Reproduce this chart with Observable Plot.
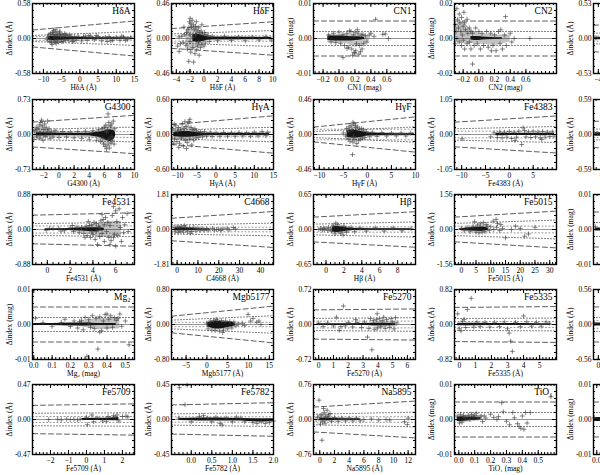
<!DOCTYPE html>
<html><head><meta charset="utf-8">
<script src="https://cdn.jsdelivr.net/npm/d3@7"></script>
<script src="https://cdn.jsdelivr.net/npm/@observablehq/plot@0.6"></script>
<style>
html,body{margin:0;padding:0;background:#fff;overflow:hidden;}
#wrap{position:relative;width:600px;height:475px;overflow:hidden;background:#fff;}
#wrap svg{position:absolute;}
</style></head>
<body><div id="wrap"></div>
<script>
// ---------- data ----------
const names = ["HδA","HδF","CN1","CN2","Ca4227","G4300","HγA","HγF","Fe4383","Ca4455","Fe4531","C4668","Hβ","Fe5015","Mg₁","Mg₂","Mgb5177","Fe5270","Fe5335","Fe5406","Fe5709","Fe5782","Na5895","TiO₁","TiO₂"];
const units = ["Å","Å","mag","mag","Å","Å","Å","Å","Å","Å","Å","Å","Å","Å","mag","mag","Å","Å","Å","Å","Å","Å","Å","mag","mag"];
const xMin = [-13,-4.7,-0.32,-0.31,-4.4,-3.5,-11.6,-11.2,-11.5,-0.3,-1.3,-2.7,-1.4,-2.3,-0.03,-0.007,-8.5,-0.35,-0.3,-0.2,-3.0,-0.48,-0.85,-0.027,-0.02];
const xMax = [15,10.1,0.96,0.99,4,10,15,10,9.9,3.5,7.65,46.3,10,32.3,0.25,0.55,16,6.55,6.05,4,2.67,2.0,13,0.615,0.6];
const yLim = [0.58,0.46,0.01,0.02,0.53,0.73,0.60,0.46,1.05,0.59,0.88,1.81,0.65,1.56,0.01,0.01,0.80,0.72,0.82,0.56,0.47,0.45,0.76,0.01,0.01];
const xTicks = [[-10,-5,0,5,10,15],[-4,-2,0,2,4,6,8,10],[-0.2,0,0.2,0.4,0.6],[-0.2,0,0.2,0.4,0.6],[-4,-2,0,2,4],
  [-2,0,2,4,6,8,10],[-10,-5,0,5,10,15],[-10,-5,0,5,10],[-10,-5,0,5],[0,1,2,3],
  [0,2,4,6],[0,10,20,30,40],[0,2,4,6,8],[0,5,10,15,20,25,30],[0,0.1,0.2],
  [0,0.1,0.2,0.3,0.4,0.5],[-5,0,5,10,15],[0,1,2,3,4,5,6],[0,1,2,3,4,5],[0,1,2,3,4],
  [-2,-1,0,1,2],[0,0.5,1,1.5,2],[0,2,4,6,8,10,12],[0,0.1,0.2,0.3,0.4,0.5],[0,0.1,0.2,0.3,0.4,0.5]];
const xDec = [0,0,1,1,0,0,0,0,0,0,0,0,0,0,1,1,0,0,0,0,0,1,0,1,1];
const xMinor = [1,0.5,0.05,0.05,1,0.5,1,1,1,0.2,0.5,2,0.5,1,0.02,0.02,1,0.2,0.2,0.2,0.2,0.1,0.5,0.02,0.02];
// envelopes: value at left edge, value at right edge (mirrored below zero)
const dashL = [0.14,0.13,0.005,0.01,0.2,0.26,0.17,0.097,0.37,0.22,0.36,0.58,0.23,0.55,0.005,0.005,0.19,0.3,0.4,0.28,0.19,0.187,0.27,0.005,0.005];
const dashR = [0.29,0.22,0.005,0.01,0.3,0.40,0.32,0.232,0.555,0.3,0.42,0.93,0.33,0.82,0.005,0.005,0.42,0.32,0.42,0.3,0.21,0.216,0.4,0.005,0.005];
const dotL = [0.05,0.06,0.002,0.004,0.08,0.105,0.075,0.04,0.17,0.09,0.15,0.23,0.1,0.27,0.002,0.002,0.1,0.125,0.14,0.11,0.084,0.072,0.115,0.002,0.002];
const dotR = [0.115,0.105,0.002,0.004,0.12,0.155,0.125,0.1,0.24,0.12,0.18,0.33,0.14,0.42,0.002,0.002,0.2,0.14,0.15,0.12,0.09,0.09,0.16,0.002,0.002];
const dotFlat = [0.03,0.035,null,null,0.04,0.06,0.04,0.07,0.1,0.05,0.09,0.12,0.05,0.15,null,null,0.05,0.07,0.07,0.06,0.04,0.035,0.06,null,null];

// dense cores: [x, low, high]
const core_HdA = [[-8.6,-0.028,0.028],[-7,-0.032,0.036],[-5,-0.027,0.027],[-2,-0.022,0.02],[0,-0.018,0.018],[5,-0.014,0.014],[10,-0.011,0.011],[14,-0.009,0.009]];
const core_HdF = [[-1.6,-0.04,0.05],[-1.0,-0.05,0.06],[-0.5,-0.045,0.05],[0,-0.035,0.035],[0.5,-0.022,0.022],[1.5,-0.018,0.018],[4,-0.015,0.015],[7,-0.013,0.013],[9.8,-0.013,0.013]];
const core_CN1 = [[-0.14,-0.0006,0.0007],[-0.05,-0.0007,0.0007],[0.05,-0.0007,0.0007],[0.15,-0.0007,0.0005],[0.25,-0.0005,0.0005],[0.32,-0.0003,0.0003]];
const core_CN2 = [[-0.1,-0.0009,0.0011],[-0.05,-0.0012,0.0012],[0,-0.0011,0.0011],[0.05,-0.0009,0.0009],[0.1,-0.0007,0.0007],[0.2,-0.0005,0.0005],[0.3,-0.0004,0.0004]];
const core_Ca4227 = [[-4.3,-0.02,0.02],[3,-0.02,0.02]];
const core_G4300 = [[-3,-0.03,0.035],[-2,-0.03,0.035],[0,-0.022,0.025],[2,-0.022,0.022],[4,-0.028,0.028],[5.5,-0.06,0.05],[6.2,-0.12,0.08],[6.8,-0.15,0.1],[7.3,-0.1,0.08],[7.5,-0.03,0.03]];
const core_HgA = [[-11,-0.035,0.035],[-9,-0.045,0.05],[-7,-0.045,0.05],[-5,-0.035,0.035],[-3,-0.022,0.022],[0,-0.018,0.018],[5,-0.016,0.016],[10,-0.016,0.016],[14,-0.013,0.018]];
const core_HgF = [[-4.2,-0.035,0.045],[-3,-0.05,0.06],[-2,-0.045,0.05],[-1,-0.035,0.035],[0,-0.02,0.022],[3,-0.013,0.013],[6,-0.011,0.011],[9.8,-0.011,0.011]];
const core_Fe4383 = [[-2.8,-0.035,0.035],[-1,-0.035,0.035],[1,-0.03,0.035],[3,-0.03,0.035],[5,-0.03,0.035],[7,-0.035,0.035],[9.5,-0.03,0.035]];
const core_Ca4455 = [[-0.25,-0.03,0.03],[3,-0.03,0.03]];
const core_Fe4531 = [[-0.2,-0.022,0.022],[1,-0.022,0.022],[2,-0.028,0.028],[3,-0.035,0.035],[4,-0.055,0.045],[4.5,-0.045,0.045],[5,-0.03,0.03]];
const core_C4668 = [[-1,-0.06,0.07],[2,-0.07,0.09],[5,-0.06,0.07],[8,-0.05,0.05],[10,-0.035,0.035],[13,-0.025,0.025],[16,-0.02,0.02]];
const core_Hb = [[0.7,-0.045,0.045],[1.2,-0.055,0.055],[1.8,-0.045,0.045],[2.4,-0.028,0.028],[3,-0.018,0.018],[5,-0.016,0.016],[7,-0.014,0.014],[9.5,-0.014,0.014]];
const core_Fe5015 = [[-0.5,-0.04,0.045],[1,-0.045,0.045],[3,-0.065,0.075],[5,-0.075,0.09],[7,-0.09,0.11],[8.5,-0.06,0.09],[9.2,-0.03,0.04]];
const core_Mg1 = [[-0.025,-0.0004,0.0004],[0.2,-0.0004,0.0004]];
const core_Mg2 = [[0,-0.0003,0.0003],[0.1,-0.0003,0.0003],[0.2,-0.0004,0.0004],[0.28,-0.0004,0.0004],[0.35,-0.0003,0.0003],[0.45,-0.0003,0.0003]];
const core_Mgb = [[0.2,-0.05,0.04],[1,-0.08,0.06],[2,-0.1,0.07],[3,-0.1,0.07],[4,-0.09,0.06],[5,-0.07,0.06],[6,-0.05,0.05],[6.8,-0.03,0.03]];
const core_Fe5270 = [[-0.1,-0.018,0.018],[1,-0.018,0.018],[2,-0.018,0.018],[3,-0.022,0.022],[3.8,-0.028,0.028],[4.5,-0.028,0.028],[5.2,-0.018,0.018]];
const core_Fe5335 = [[-0.1,-0.028,0.028],[1,-0.028,0.028],[2,-0.022,0.022],[3,-0.022,0.022],[4,-0.022,0.022],[5,-0.018,0.018],[5.7,-0.018,0.018]];
const core_Fe5406 = [[-0.15,-0.025,0.025],[3.5,-0.02,0.02]];
const core_Fe5709 = [[-0.25,-0.014,0.014],[0.5,-0.014,0.018],[1,-0.014,0.018],[1.5,-0.018,0.022],[1.8,-0.018,0.028]];
const core_Fe5782 = [[-0.3,-0.014,0.014],[0.2,-0.018,0.018],[0.7,-0.018,0.018],[1.2,-0.018,0.014],[1.6,-0.032,0.01],[2.0,-0.028,0.01]];
const core_Na5895 = [[0,-0.028,0.035],[1,-0.028,0.028],[2,-0.022,0.022],[3,-0.018,0.018],[4,-0.018,0.018],[5.5,-0.014,0.014]];
const core_TiO1 = [[-0.01,-0.0006,0.0007],[0.02,-0.0006,0.0008],[0.05,-0.0004,0.0007],[0.1,-0.0002,0.0007],[0.14,0,0.0005]];
const core_TiO2 = [[-0.015,-0.0006,0.0006],[0.1,-0.0005,0.0005]];

// looser clouds around the cores: [x, low, high]
const halo_HdA = [[-8.8,-0.07,0.08],[-7,-0.09,0.13],[-5,-0.05,0.07],[-3,-0.035,0.04],[0,-0.03,0.03],[14,-0.02,0.02]];
const halo_HdF = [[-2.6,-0.1,0.1],[-2,-0.15,0.2],[-1.5,-0.15,0.17],[-1,-0.12,0.13],[-0.5,-0.1,0.1],[0,-0.07,0.07],[0.5,-0.03,0.03],[10,-0.02,0.02]];
const halo_CN1 = [[-0.14,-0.0012,0.0012],[0.1,-0.0015,0.0012],[0.2,-0.0025,0.0012],[0.3,-0.002,0.001],[0.38,-0.0008,0.0008]];
const halo_CN2 = [[-0.3,-0.002,0.008],[-0.2,-0.003,0.01],[-0.1,-0.003,0.005],[0,-0.003,0.003],[0.2,-0.004,0.002],[0.4,-0.002,0.002]];
const halo_G4300 = [[-3.3,-0.06,0.1],[-2.3,-0.08,0.18],[-1,-0.05,0.08],[2,-0.05,0.05],[5,-0.08,0.07],[6.2,-0.25,0.18],[7,-0.2,0.2],[7.5,-0.06,0.06]];
const halo_HgA = [[-11.3,-0.08,0.08],[-9,-0.12,0.13],[-7,-0.13,0.15],[-5,-0.06,0.07],[-3,-0.03,0.03],[14,-0.025,0.03]];
const halo_HgF = [[-4.4,-0.06,0.07],[-3,-0.09,0.11],[-2,-0.08,0.09],[-1,-0.05,0.06],[0,-0.03,0.03],[9.8,-0.02,0.02]];
const halo_Fe4531 = [[2,-0.04,0.04],[3.5,-0.1,0.08],[4.5,-0.2,0.15],[5.5,-0.2,0.2],[6.5,-0.15,0.2]];
const halo_C4668 = [[-1.5,-0.1,0.12],[5,-0.1,0.12],[10,-0.05,0.05],[16,-0.03,0.03]];
const halo_Hb = [[0.7,-0.08,0.08],[2,-0.08,0.08],[3,-0.03,0.03],[9.5,-0.02,0.02]];
const halo_Fe5015 = [[0,-0.06,0.07],[5,-0.12,0.15],[8,-0.12,0.2],[9.5,-0.05,0.08]];
const halo_Mg2 = [[0.25,-0.0006,0.0008],[0.35,-0.0015,0.0018],[0.47,-0.0012,0.002]];
const halo_Mgb = [[0,-0.07,0.06],[2,-0.13,0.09],[4,-0.12,0.08],[6,-0.08,0.06],[7,-0.04,0.03]];
const halo_Fe5270 = [[3.5,-0.03,0.03],[4,-0.06,0.06],[5.3,-0.05,0.06]];
const halo_Na5895 = [[-0.2,-0.05,0.1],[0.8,-0.06,0.12],[1.5,-0.04,0.05],[5.5,-0.02,0.02]];
const halo_TiO1 = [[0,-0.001,0.0012],[0.15,-0.0003,0.0012]];
const halo_none = [];

// scattered points: [x, Δindex]
const pts_HdA = [[-8.5,0.06],[-8.2,-0.05],[-8,0.08],[-7.8,-0.07],[-7.5,0.1],[-7.2,0.13],[-7,-0.04],[-6.8,0.15],[-6.6,0.07],[-6.5,-0.08],[-6.3,0.11],[-6,0.05],[-5.8,-0.06],[-5.6,0.09],[-5.3,0.03],[-5,-0.05],[-4.8,0.06],[-4.5,0.04],[-4,-0.03],[-3.5,0.05],[-3,-0.04],[-2.5,0.04],[-2,-0.05],[-1.5,0.03],[-1,-0.03],[-0.5,0.04],[0.5,-0.04],[1,0.03],[2,-0.03],[3,0.04],[4,-0.02],[5,0.03],[6,-0.04],[7,0.02],[8,0.03],[9,-0.03],[10,0.02],[11,-0.03],[12,0.025],[13,-0.02],[14,0.02],[-8.8,0.02],[-7.6,-0.1],[-6.9,0.04],[-6.2,-0.02],[-5.5,0.12],[-4.2,0.08],[2.5,0.05],[7.5,-0.05],[11.5,0.04],[-9,-0.02],[-7.3,0.06],[-6.7,-0.06],[-5.2,0.07],[-4.6,-0.05],[-3.8,0.07],[-2.8,0.06],[-1.8,-0.04],[1.5,0.04],[4.5,0.05],[8.5,-0.04],[12.5,-0.03]];
const pts_HdF = [[-2,0.265],[-1.9,0.2],[-2.1,0.22],[-1.7,0.24],[-1.5,0.18],[-2.3,0.12],[-1.8,0.15],[-1.4,0.12],[-1.2,0.16],[-1,0.1],[-0.8,0.14],[-0.6,0.08],[-0.4,0.1],[-0.2,0.06],[0.1,0.08],[0.3,0.05],[-2.5,0.08],[-2.8,0.05],[-3.2,0.03],[-3.6,0.02],[-3.6,-0.17],[-3.8,-0.1],[-3.4,-0.07],[-3,-0.05],[-2.6,-0.09],[-2.4,-0.14],[-2.2,-0.3],[-2.1,-0.43],[-1.9,-0.18],[-1.6,-0.12],[-1.3,-0.2],[-1.1,-0.15],[-0.9,-0.1],[-0.7,-0.22],[-0.5,-0.12],[-0.3,-0.08],[0,-0.1],[0.2,-0.06],[-1.5,-0.31],[-0.8,-0.05],[-1.2,0.05],[-2,0.05],[-1.6,0.02],[-2,-0.04],[0.6,0.04],[0.8,-0.04],[1.2,0.03],[2,-0.03],[3,0.03],[4,-0.025],[5,0.02],[6,-0.03],[7,0.02],[8,-0.02],[9,0.025],[9.8,-0.02],[-2.9,0.15],[-1.1,0.22],[-0.3,0.18]];
const pts_CN1 = [[-0.13,0.001],[-0.1,-0.001],[-0.07,0.0015],[-0.04,-0.0012],[0,0.0018],[0.02,-0.0015],[0.05,0.0012],[0.07,-0.002],[0.1,0.0015],[0.12,-0.0025],[0.15,0.002],[0.16,-0.003],[0.18,0.001],[0.19,-0.004],[0.2,0.0018],[0.21,-0.0035],[0.22,-0.0015],[0.24,0.0015],[0.25,-0.0045],[0.26,-0.002],[0.28,0.001],[0.29,-0.003],[0.3,0.0012],[0.31,-0.0015],[0.33,0.0008],[0.35,-0.001],[0.38,0.001],[0.4,0.0015],[0.44,0.0006],[0.46,0.0055],[0.55,0.0012],[0.58,0.0013],[0.62,0],[0.17,-0.0048],[0.05,-0.0054],[0.2,-0.0042],[0.23,0.0025],[0.13,0.0022],[0.27,-0.0038],[0.1,-0.0028]];
const pts_CN2 = [[-0.28,0.017],[-0.25,0.014],[-0.27,0.011],[-0.24,0.009],[-0.22,0.012],[-0.2,0.007],[-0.26,0.006],[-0.29,0.004],[-0.23,0.004],[-0.21,0.002],[-0.18,0.009],[-0.17,0.005],[-0.15,0.011],[-0.14,0.003],[-0.12,0.006],[-0.1,0.004],[-0.19,0.015],[-0.3,0.008],[-0.28,0],[-0.25,-0.002],[-0.22,-0.004],[-0.2,-0.001],[-0.18,-0.006],[-0.15,-0.003],[-0.12,-0.002],[-0.3,-0.003],[-0.08,0.003],[-0.06,-0.004],[-0.04,0.006],[-0.02,-0.003],[0,0.004],[0.02,-0.006],[0.04,0.003],[0.06,-0.004],[-0.08,-0.0146],[0.1,0.004],[0.12,-0.005],[0.15,0.003],[0.18,-0.004],[0.2,0.002],[0.22,-0.007],[0.25,0.004],[0.27,-0.003],[0.3,-0.006],[0.33,0.002],[0.35,-0.004],[0.34,0.0125],[0.4,0.003],[0.42,-0.002],[0.45,0],[0.65,0],[0.28,0.005],[0.16,-0.007],[-0.1,-0.006]];
const pts_Ca4227 = [[-4.2,0.01]];
const pts_G4300 = [[-3.2,0.08],[-3,0.15],[-2.8,0.12],[-2.6,0.2],[-2.5,0.05],[-2.4,0.25],[-2.3,0.3],[-2.2,0.18],[-2,0.1],[-1.9,0.22],[-1.7,0.15],[-1.5,0.07],[-1.3,0.12],[-1,0.05],[-2.9,-0.05],[-2.5,-0.08],[-2.1,-0.12],[-1.8,-0.04],[-1.2,-0.08],[-0.8,-0.05],[-3.3,-0.1],[-0.5,0.08],[0,-0.06],[0.5,0.06],[1,-0.05],[1.5,0.05],[2,-0.07],[2.5,0.06],[3,-0.08],[3.5,0.07],[4,-0.1],[4.5,0.08],[5,-0.12],[5.2,0.1],[5.5,-0.15],[5.7,0.12],[5.9,-0.2],[6,0.15],[6.1,-0.25],[6.2,0.2],[6.3,-0.3],[6.4,0.1],[6.5,-0.22],[6.6,0.25],[6.7,-0.28],[6.8,0.18],[6.9,-0.18],[7,0.22],[7.1,-0.12],[7.2,0.28],[7.3,-0.2],[7.4,0.12],[6.5,0.43],[5.8,-0.08],[6.6,-0.1],[7,-0.05],[6.3,0.05],[-1.5,0.28]];
const pts_HgA = [[-11.2,0.1],[-10.8,-0.08],[-10.5,0.15],[-10.2,-0.12],[-10,0.06],[-9.8,0.12],[-9.5,-0.15],[-9.2,0.08],[-9,-0.06],[-8.8,0.18],[-8.5,-0.2],[-8.3,0.1],[-8,-0.1],[-7.8,0.14],[-7.5,-0.14],[-7.3,0.2],[-7,0.22],[-6.8,-0.08],[-6.5,0.12],[-6.3,-0.18],[-6,0.08],[-5.8,-0.1],[-5.5,0.1],[-5.2,-0.06],[-5,0.06],[-4.5,-0.05],[-4,0.05],[-3.5,-0.04],[-3,0.05],[-2.5,-0.03],[-1.5,0.04],[-1,-0.035],[0,0.03],[1,-0.03],[2,0.035],[3,-0.03],[4,0.03],[5,-0.03],[6,0.035],[7,-0.025],[8,0.03],[9,-0.03],[10,0.04],[11,-0.025],[12,0.05],[13,-0.02],[13.5,0.04],[-9.7,-0.22],[-7.7,-0.24],[-6.8,0.26],[-8.1,0.22],[-10.9,0.18],[-11,-0.15]];
const pts_HgF = [[-4.3,0.08],[-4,-0.06],[-3.8,0.1],[-3.6,-0.09],[-3.4,0.12],[-3.2,0.06],[-3,-0.1],[-2.8,0.14],[-2.6,-0.07],[-2.4,0.09],[-2.2,-0.12],[-2,0.1],[-1.8,-0.08],[-1.6,0.07],[-1.4,-0.06],[-1.2,0.08],[-1,-0.05],[-0.8,0.06],[-0.5,-0.04],[-3.1,-0.265],[-0.2,0.04],[0.5,-0.03],[1,0.03],[2,-0.025],[3,0.025],[4,-0.02],[5,0.02],[6,-0.02],[7,0.02],[8,-0.02],[9,0.02],[-5,0.02],[-3,0.16],[-2.5,0.12],[-4.5,-0.02],[-3.9,0.04],[-2.9,-0.03]];
const pts_Fe4383 = [[-9.9,-0.13],[-3.9,-0.07],[-3.2,0.05],[-2.5,-0.09],[-2,0.08],[-1.5,-0.1],[-1,0.07],[-0.5,-0.08],[0,0.09],[0.5,-0.12],[1,0.07],[1.5,-0.08],[2,0.1],[2.6,-0.3],[2.9,0.2],[3.5,-0.07],[4,0.08],[4.5,-0.09],[5,0.1],[5.5,-0.07],[6,0.08],[6.5,-0.1],[7,0.09],[7.5,-0.08],[8,0.07],[8.5,-0.06],[9,0.08],[9.4,-0.05],[3.2,0.12],[6.8,-0.15],[1.2,-0.18]];
const pts_Ca4455 = [[-0.2,0.02]];
const pts_Fe4531 = [[0.5,0.02],[1,0.03],[1.5,-0.03],[2,0.04],[2.3,-0.05],[2.6,0.06],[2.8,-0.08],[3,0.05],[3.2,-0.1],[3.4,0.08],[3.5,-0.15],[3.7,0.1],[3.8,-0.2],[3.9,0.12],[4,-0.12],[4.1,0.18],[4.2,-0.25],[4.3,0.15],[4.4,-0.38],[4.5,0.08],[4.6,-0.18],[4.7,0.22],[4.8,-0.1],[4.9,0.25],[5,-0.3],[5.1,0.3],[5.2,-0.05],[5.3,0.18],[5.4,-0.2],[5.5,0.1],[5.6,-0.28],[5.7,0.35],[5.8,0.575],[5.9,-0.12],[6,0.47],[6,-0.42],[6.1,0.2],[6.2,-0.15],[6.3,0.52],[6.4,0.05],[6.5,-0.3],[6.6,0.3],[6.8,0.12],[7,0.4],[7.1,-0.05],[5.5,-0.38],[4.8,0.38],[3.6,0.2],[2.2,0.1],[1.2,-0.04],[0.2,0.03],[-0.1,-0.02],[3.3,-0.2],[4.3,-0.05],[5,0.12],[5.8,-0.2],[6.7,-0.08],[4.6,0.05],[3.9,-0.06]];
const pts_C4668 = [[-1.5,0.1],[-1,-0.12],[0,0.14],[0.5,-0.15],[1,0.12],[1.5,-0.1],[2,0.16],[3,-0.14],[4,0.12],[5,-0.12],[6,0.1],[7,-0.1],[8,0.12],[9,-0.08],[10,0.08],[11,-0.06],[12,0.06],[13,-0.05],[14,0.05],[15,-0.04],[17,0.05],[18,-0.03],[20,0.02],[21,-0.05],[22,0.04],[24,0.06],[25,-0.02],[27,0.1],[28,0.03],[19,0],[3.5,0.2],[6.5,-0.2]];
const pts_Hb = [[-0.6,0.02],[-0.4,-0.01],[-0.3,0.03],[-0.2,0],[0,0.02],[0.2,-0.02],[0.3,0.04],[0.5,0.01],[-0.8,0],[0.6,-0.03],[0.8,0.08],[1,-0.08],[1.3,0.09],[1.6,-0.07],[2,0.06],[2.3,-0.05],[2.8,0.04],[3.2,-0.04],[3.8,0.03],[4.5,-0.03],[5.5,0.03],[6.5,-0.03],[7.5,0.03],[8.5,-0.025],[9.5,0.02],[1.1,0.12],[1.9,-0.1]];
const pts_Fe5015 = [[0,0.05],[1,-0.06],[2,0.08],[3,-0.1],[4,0.15],[5,-0.12],[5.5,0.2],[6,-0.15],[6.5,0.25],[7,-0.12],[7.5,0.3],[8,-0.1],[8.5,0.22],[9,0.15],[9.5,-0.05],[10,0.12],[10.8,0.37],[11.8,0.45],[12.3,0.27],[13.4,0.22],[12,0.1],[14,0.05],[15,-0.37],[18.4,0.15],[21.5,-0.3],[22.8,-0.2],[17,0],[20,0.05],[25,0.1],[11,0],[13,-0.05],[4.5,0.35]];
const pts_Mg1 = [[-0.025,0.0008]];
const pts_Mg2 = [[0.01,0.0018],[0.05,0.0005],[0.1,-0.0005],[0.15,0.0006],[0.17,0.0015],[0.2,-0.0006],[0.22,0.001],[0.24,-0.001],[0.26,0.0012],[0.27,-0.0015],[0.28,0.002],[0.29,-0.0091],[0.3,0.0015],[0.31,-0.0008],[0.32,0.0025],[0.33,-0.0012],[0.34,0.0018],[0.35,-0.007],[0.36,0.0022],[0.37,-0.0018],[0.38,0.001],[0.39,0.0028],[0.4,-0.001],[0.41,0.0015],[0.42,0.0025],[0.43,-0.0008],[0.44,0.002],[0.45,0.0012],[0.46,0.0018],[0.47,0.003],[0.48,-0.0005],[0.5,0.001],[0.52,-0.0058],[0.3,0.0005],[0.25,0.0008],[0.36,-0.0022],[0.4,0.003]];
const pts_Mgb = [[0,0.03],[0.3,-0.1],[0.8,0.08],[1.2,-0.13],[1.6,0.09],[2,-0.14],[2.5,0.1],[3,-0.15],[3.5,0.09],[4,-0.13],[4.5,0.08],[5,-0.1],[5.5,0.07],[6,-0.08],[6.5,0.06],[7,-0.03],[7.5,0.02],[8.5,0.03],[9.9,0.23],[11.1,0.14],[12.5,0.08],[10.5,0.08],[12,0.05],[13,0],[9,-0.02],[2.2,0.12],[3.8,-0.18]];
const pts_Fe5270 = [[0,0.03],[0.3,-0.04],[0.6,0.03],[1,-0.03],[1.2,0.15],[1.5,-0.04],[1.67,0.38],[1.8,-0.03],[2,0.04],[2.3,-0.05],[2.6,0.04],[2.9,-0.06],[3.1,0.05],[3.3,-0.26],[3.4,-0.08],[3.6,-0.52],[3.7,0.08],[3.8,-0.1],[3.9,0.1],[3.96,0.22],[4,-0.07],[4.1,0.12],[4.2,-0.05],[4.3,0.08],[4.5,-0.08],[4.6,0.1],[4.8,-0.06],[4.9,0.12],[5,0.05],[5.1,-0.09],[5.2,0.14],[5.3,0.03],[1.4,-0.12],[2.5,0.1],[3.5,0.12],[4.4,0.15]];
const pts_Fe5335 = [[-0.1,0.25],[0,-0.1],[0.2,0.08],[0.4,-0.07],[0.5,0.35],[0.74,0.615],[0.9,-0.06],[1.1,0.06],[1.3,-0.05],[1.6,0.05],[1.9,-0.06],[2.2,0.05],[2.5,-0.05],[2.8,0.06],[3.1,-0.2],[3.2,-0.39],[3.3,-0.63],[3,-0.1],[3.5,0.05],[3.8,-0.05],[4,0.2],[4.2,0.06],[4.5,-0.04],[4.8,0.05],[5.1,-0.04],[5.4,0.06],[5.6,0.03],[0.3,0.12],[0.1,-0.15]];
const pts_Fe5406 = [[-0.15,0.02]];
const pts_Fe5709 = [[-2.1,0],[-1.6,0.003],[-1.4,-0.004],[-1.1,0.005],[-0.9,0],[-0.7,0.003],[-0.5,-0.003],[-0.35,0.004],[0,0.03],[0.05,-0.07],[0.3,0.06],[0.6,0.02],[0.9,-0.02],[1.2,0.04],[1.5,0.05],[1.7,0.06],[1.8,-0.02],[2,0.04],[2.2,0.045],[2.3,0.035],[1.6,0.035],[1.1,-0.025],[0.4,-0.03]];
const pts_Fe5782 = [[-0.29,0.41],[-0.1,0.44],[-0.15,0.19],[-0.3,0.02],[0,-0.03],[0.2,0.04],[0.3,0.05],[0.5,-0.03],[0.6,0.03],[0.7,-0.05],[0.75,-0.07],[0.85,0.02],[1,-0.03],[1.1,0.03],[1.3,-0.03],[1.5,-0.04],[1.6,-0.05],[1.7,-0.03],[1.8,-0.05],[1.9,-0.04],[2,-0.02],[0.4,0.02],[1.2,0.02]];
const pts_Na5895 = [[-0.1,0.42],[0.3,-0.45],[0.5,0.24],[0.2,0.1],[0.4,-0.05],[0.6,0.15],[0.8,0.05],[1,0.2],[1.2,0.1],[1.4,0.13],[0.1,-0.1],[0.7,-0.08],[1.1,0.06],[1.6,-0.04],[2,0.04],[2.5,-0.04],[3,0.03],[3.5,-0.03],[4,0.03],[4.5,-0.03],[5,0.03],[5.5,-0.03],[6,0],[7,0.01],[8,-0.01],[9,0],[9.5,-0.01],[11.9,-0.11],[12,0.03],[11.5,-0.05],[-0.5,0],[-0.3,0.05]];
const pts_TiO1 = [[-0.01,0.001],[0.005,-0.001],[0.01,0.0015],[0.02,-0.0008],[0.03,0.0012],[0.04,0.0005],[0.06,0.0012],[0.07,0],[0.08,0.0015],[0.09,0.0008],[0.1,0.0012],[0.12,0.0005],[0.14,0.001],[0.15,-0.0006],[0.17,0.0004],[0.2,0.0015],[0.22,0.0006],[0.24,0],[0.27,0.0048],[0.28,0.0022],[0.3,-0.0005],[0.32,-0.0015],[0.34,0.002],[0.35,0.0005],[0.37,-0.0012],[0.38,-0.002],[0.4,0.001],[0.41,-0.0028],[0.42,0.002],[0.43,-0.001],[0.45,0.002],[0.39,-0.0025],[0.58,0.0065],[0.25,0.0008],[0.11,0.0018],[0.16,0.001]];
const pts_TiO2 = [[-0.015,0.0005]];

const cores = [core_HdA,core_HdF,core_CN1,core_CN2,core_Ca4227,core_G4300,core_HgA,core_HgF,core_Fe4383,core_Ca4455,core_Fe4531,core_C4668,core_Hb,core_Fe5015,core_Mg1,core_Mg2,core_Mgb,core_Fe5270,core_Fe5335,core_Fe5406,core_Fe5709,core_Fe5782,core_Na5895,core_TiO1,core_TiO2];
const halos = [halo_HdA,halo_HdF,halo_CN1,halo_CN2,halo_none,halo_G4300,halo_HgA,halo_HgF,halo_none,halo_none,halo_Fe4531,halo_C4668,halo_Hb,halo_Fe5015,halo_none,halo_Mg2,halo_Mgb,halo_Fe5270,halo_none,halo_none,halo_none,halo_none,halo_Na5895,halo_TiO1,halo_none];
const points = [pts_HdA,pts_HdF,pts_CN1,pts_CN2,pts_Ca4227,pts_G4300,pts_HgA,pts_HgF,pts_Fe4383,pts_Ca4455,pts_Fe4531,pts_C4668,pts_Hb,pts_Fe5015,pts_Mg1,pts_Mg2,pts_Mgb,pts_Fe5270,pts_Fe5335,pts_Fe5406,pts_Fe5709,pts_Fe5782,pts_Na5895,pts_TiO1,pts_TiO2];

// ---------- layout ----------
const colLeft = [0,139,281,422,561];
const rowTop = [0,96,191,286,381];
const PW = 140, PH = 95, ML = 32, MR = 6, MT = 3, MB = 22;
const IW = PW - ML - MR, IH = PH - MT - MB;
const FONT = "'Liberation Serif', 'DejaVu Serif', serif";

function panel(i) {
  const x0 = xMin[i], x1 = xMax[i], yl = yLim[i];
  const inX = v => v >= x0 - 1e-9 && v <= x1 + 1e-9;
  const major = xTicks[i].filter(inX);
  const st = xMinor[i];
  const minor = d3.range(Math.ceil(x0 / st), Math.floor(x1 / st) + 1).map(k => k * st).filter(inX);
  const yMajor = [-yl, 0, yl];
  const yMinor = d3.range(-4, 5).map(k => k * yl / 5);
  const env = (l, r, s) => [[x0, s * l], [x1, s * r]];
  const lineOpt = (dash, col, w) => ({x: d => d[0], y: d => d[1], stroke: col, strokeWidth: w, strokeDasharray: dash});
  const xf = v => {
    const s = v.toFixed(xDec[i]);
    return v < 0 ? "\u2212" + s.slice(1) : s;
  };
  const yf = v => (Math.abs(v) < 1e-12 ? 0 : v).toFixed(2);
  const marks = [
    Plot.ruleY([0], {stroke: "#777", strokeWidth: 0.8}),
    Plot.line(env(dotL[i], dotR[i], 1), lineOpt("1,2", "#555", 0.8)),
    Plot.line(env(dotL[i], dotR[i], -1), lineOpt("1,2", "#555", 0.8)),
  ];
  if (dotFlat[i] != null) {
    marks.push(Plot.line(env(dotFlat[i], dotFlat[i], 1), lineOpt("1,2.5", "#666", 0.7)));
    marks.push(Plot.line(env(dotFlat[i], dotFlat[i], -1), lineOpt("1,2.5", "#666", 0.7)));
  }
  marks.push(
    Plot.line(env(dashL[i], dashR[i], 1), lineOpt("5,3", "#333", 0.8)),
    Plot.line(env(dashL[i], dashR[i], -1), lineOpt("5,3", "#333", 0.8)),
    Plot.areaY(halos[i], {x: d => d[0], y1: d => d[1], y2: d => d[2], fill: "#333", fillOpacity: 0.3, curve: "linear"}),
    Plot.areaY(cores[i], {x: d => d[0], y1: d => d[1], y2: d => d[2], fill: "#151515", curve: "linear"}),
    Plot.dot(points[i], {x: d => d[0], y: d => d[1], symbol: "plus", r: 1.7, stroke: "#444", strokeWidth: 0.65}),
    // inward ticks on all four sides
    Plot.ruleX(major, {x: d => d, insetTop: IH - 4, stroke: "#000"}),
    Plot.ruleX(major, {x: d => d, insetBottom: IH - 4, stroke: "#000"}),
    Plot.ruleX(minor, {x: d => d, insetTop: IH - 2, stroke: "#000"}),
    Plot.ruleX(minor, {x: d => d, insetBottom: IH - 2, stroke: "#000"}),
    Plot.ruleY(yMajor, {y: d => d, insetRight: IW - 4, stroke: "#000"}),
    Plot.ruleY(yMajor, {y: d => d, insetLeft: IW - 4, stroke: "#000"}),
    Plot.ruleY(yMinor, {y: d => d, insetRight: IW - 2, stroke: "#000"}),
    Plot.ruleY(yMinor, {y: d => d, insetLeft: IW - 2, stroke: "#000"}),
    Plot.frame({stroke: "#000", strokeWidth: 1.4}),
    Plot.axisX({ticks: major, tickSize: 0, tickPadding: 3, tickFormat: xf, label: null, fontSize: 7.5}),
    Plot.axisY({ticks: yMajor, tickSize: 0, tickPadding: 2, tickFormat: yf, label: null, fontSize: 7.5}),
    Plot.text([names[i]], {frameAnchor: "top-right", dx: -4, dy: 4, textAnchor: "end", lineAnchor: "top", fontSize: 9.5, fill: "#000"}),
    Plot.text([names[i] + " (" + units[i] + ")"], {frameAnchor: "bottom", dy: 14, lineAnchor: "middle", fontSize: 7.5, fill: "#000"}),
    Plot.text(["\u0394index (" + units[i] + ")"], {frameAnchor: "left", dx: -23, rotate: -90, textAnchor: "middle", fontSize: 7.5, fill: "#000"})
  );
  return Plot.plot({
    width: PW, height: PH,
    marginLeft: ML, marginRight: MR, marginTop: MT, marginBottom: MB,
    x: {domain: [x0, x1]},
    y: {domain: [-yl, yl]},
    style: {fontFamily: FONT, fontSize: "7.5px", background: "transparent", overflow: "visible", color: "#000"},
    marks
  });
}

const wrap = document.getElementById("wrap");
for (let i = 0; i < names.length; i++) {
  const r = Math.floor(i / 5), c = i % 5;
  const svg = panel(i);
  svg.style.left = colLeft[c] + "px";
  svg.style.top = rowTop[r] + "px";
  svg.style.maxWidth = "none";
  wrap.appendChild(svg);
}
</script>
</body></html>
